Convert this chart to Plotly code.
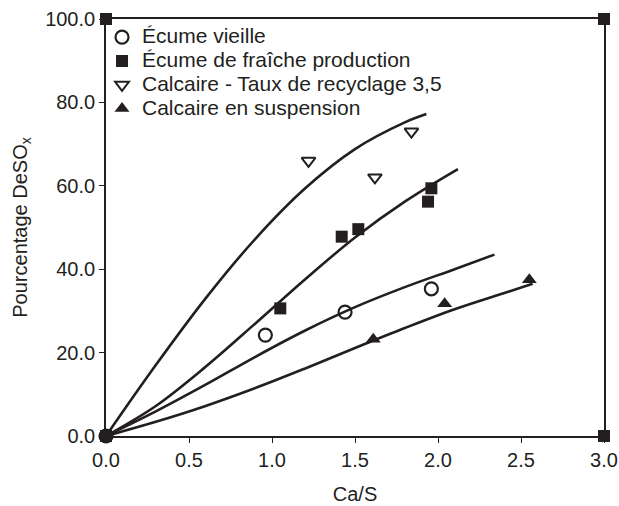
import plotly.graph_objects as go

INK = "#231f20"
FONT = "Liberation Sans, Arial, Helvetica, sans-serif"

# Measured points
old_x = [0.0, 0.96, 1.44, 1.96]
old_y = [0.0, 24.2, 29.7, 35.3]

fresh_x = [1.05, 1.42, 1.52, 1.94, 1.96]
fresh_y = [30.6, 47.8, 49.6, 56.2, 59.4]

recyc_x = [1.22, 1.62, 1.84]
recyc_y = [66.0, 62.0, 73.0]

susp_x = [1.61, 2.04, 2.55]
susp_y = [23.2, 31.7, 37.5]

corner_x = [0.0, 0.0, 3.0, 3.0]
corner_y = [0.0, 100.0, 100.0, 0.0]

# Fitted curves
fit_recyc_x = [0.0, 0.3, 0.6, 0.9, 1.2, 1.5, 1.8, 1.93]
fit_recyc_y = [0.0, 17.0, 33.0, 47.3, 59.4, 68.8, 75.2, 77.2]

fit_fresh_x = [0.0, 0.3, 0.6, 0.9, 1.2, 1.5, 1.8, 2.12]
fit_fresh_y = [0.0, 7.2, 16.6, 27.0, 37.6, 47.6, 56.2, 64.0]

fit_old_x = [0.0, 0.3, 0.6, 0.9, 1.2, 1.5, 1.8, 2.1, 2.34]
fit_old_y = [0.0, 5.9, 12.3, 19.0, 25.3, 30.9, 35.7, 40.0, 43.5]

fit_susp_x = [0.0, 0.3, 0.6, 0.9, 1.2, 1.5, 1.8, 2.1, 2.4, 2.57]
fit_susp_y = [0.0, 3.4, 7.2, 11.5, 16.2, 21.1, 25.9, 30.4, 34.3, 36.5]

x_ticks = [0.0, 0.5, 1.0, 1.5, 2.0, 2.5, 3.0]
y_ticks = [0.0, 20.0, 40.0, 60.0, 80.0, 100.0]

names = ["Écume vieille", "Écume de fraîche production",
         "Calcaire - Taux de recyclage 3,5", "Calcaire en suspension"]


def lbl(s):
    return '<span style="font-size:21px">' + s + '</span>'


fig = go.Figure()

for fx, fy in [(fit_recyc_x, fit_recyc_y), (fit_fresh_x, fit_fresh_y),
               (fit_old_x, fit_old_y), (fit_susp_x, fit_susp_y)]:
    fig.add_trace(go.Scatter(x=fx, y=fy, mode="lines",
                             line=dict(color=INK, width=2.6, shape="spline", smoothing=1.0),
                             showlegend=False, hoverinfo="skip", cliponaxis=False))

fig.add_trace(go.Scatter(x=corner_x, y=corner_y, mode="markers", showlegend=False,
                         marker=dict(symbol="square", size=12, color=INK), cliponaxis=False))

fig.add_trace(go.Scatter(x=old_x, y=old_y, mode="markers", name=lbl(names[0]),
                         marker=dict(symbol="circle-open", size=13, color=INK, line=dict(width=2.2, color=INK)),
                         cliponaxis=False))
fig.add_trace(go.Scatter(x=fresh_x, y=fresh_y, mode="markers", name=lbl(names[1]),
                         marker=dict(symbol="square", size=12, color=INK), cliponaxis=False))
fig.add_trace(go.Scatter(x=recyc_x, y=recyc_y, mode="markers", name=lbl(names[2]),
                         marker=dict(symbol="triangle-down-open", size=12, color=INK, line=dict(width=2, color=INK)),
                         cliponaxis=False))
fig.add_trace(go.Scatter(x=susp_x, y=susp_y, mode="markers", name=lbl(names[3]),
                         marker=dict(symbol="triangle-up", size=13, color=INK), cliponaxis=False))

axis_common = dict(showline=True, linecolor=INK, linewidth=1.6, mirror=True, ticks="outside",
                   ticklen=5, tickwidth=1.4, tickcolor=INK, showgrid=False, zeroline=False,
                   automargin=False,
                   tickformat=".1f", tickfont=dict(family=FONT, size=20, color=INK))

fig.update_layout(
    width=619, height=506,
    margin=dict(l=106, r=15, t=19, b=70, autoexpand=False),
    paper_bgcolor="white", plot_bgcolor="white",
    font=dict(family=FONT, size=20, color=INK),
    xaxis=dict(range=[0, 3], tickvals=x_ticks,
               title=dict(text="Ca/S", font=dict(size=20, color=INK), standoff=17), **axis_common),
    yaxis=dict(range=[0, 100], tickvals=y_ticks,
               title=dict(text="Pourcentage DeSO<sub>x</sub>", font=dict(size=20, color=INK), standoff=12),
               **axis_common),
    legend=dict(x=-0.008, y=0.997, xanchor="left", yanchor="top", bgcolor="rgba(0,0,0,0)",
                font=dict(family=FONT, size=16, color=INK), borderwidth=0,
                itemsizing="trace"),
    showlegend=True,
)

fig.write_html("out.html", config={"displayModeBar": False},
               post_script="document.body.style.margin='0px';document.body.style.overflow='hidden';")
